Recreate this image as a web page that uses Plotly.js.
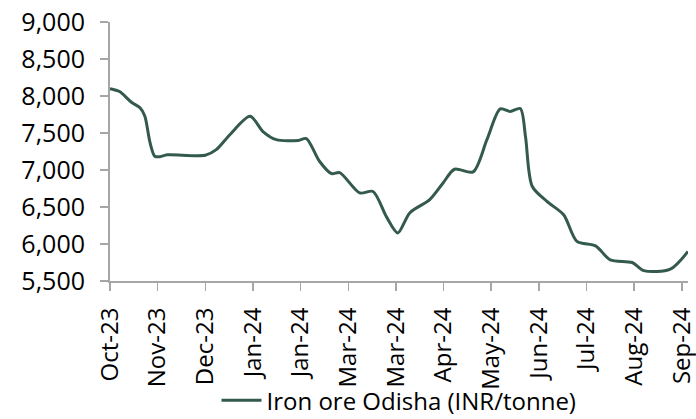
<!DOCTYPE html>
<html>
<head>
<meta charset="utf-8">
<script src="https://cdn.plot.ly/plotly-3.0.1.min.js"></script>
<style>html,body{margin:0;padding:0;background:#fff;}#chart{width:696px;height:419px;}</style>
</head>
<body>
<div id="chart"></div>
<script>
// Tick labels (category periods)
const periodLabels = ["Oct-23","Nov-23","Dec-23","Jan-24","Jan-24","Mar-24","Mar-24","Apr-24","May-24","Jun-24","Jul-24","Aug-24","Sep-24"];
// Position of each observation along the period axis (in label units)
const periodPos = [0, 0.2, 0.45, 0.63, 0.73, 0.84, 0.94, 1.05, 1.2, 2.0, 2.23, 2.52, 2.94, 3.21, 3.49, 3.95, 4.12, 4.40, 4.65, 4.82, 5.24, 5.52, 5.80, 6.04, 6.29, 6.71, 6.99, 7.23, 7.62, 7.91, 8.19, 8.40, 8.61, 8.72, 8.86, 9.17, 9.52, 9.80, 10.19, 10.50, 10.96, 11.20, 11.76, 12.13];
// Iron ore Odisha price (INR/tonne)
const priceOdisha = [8100, 8060, 7915, 7840, 7730, 7370, 7185, 7180, 7205, 7200, 7275, 7480, 7725, 7520, 7410, 7400, 7425, 7115, 6950, 6965, 6690, 6710, 6370, 6150, 6420, 6600, 6825, 7010, 6975, 7410, 7825, 7790, 7830, 7450, 6780, 6575, 6395, 6035, 5975, 5785, 5750, 5640, 5660, 5900];
const seriesName = "Iron ore Odisha (INR/tonne)";

const axisColor = "#a6a6a6";
const fontFam = "'Open Sans', 'Noto Sans', sans-serif";

const trace = {
  x: periodPos,
  y: priceOdisha,
  type: "scatter",
  mode: "lines",
  name: seriesName,
  line: {color: "#335a4a", width: 3, shape: "spline", smoothing: 0.8},
  hoverinfo: "skip"
};

const layout = {
  width: 696,
  height: 419,
  margin: {l: 110, r: 8, t: 22, b: 138, autoexpand: false},
  paper_bgcolor: "#ffffff",
  plot_bgcolor: "#ffffff",
  font: {family: fontFam, size: 25, color: "#000000"},
  showlegend: true,
  legend: {
    orientation: "h",
    x: 0.5, xanchor: "center",
    y: -0.462, yanchor: "middle",
    bgcolor: "rgba(0,0,0,0)",
    font: {family: fontFam, size: 24, color: "#000000"},
    itemwidth: 40,
    tracegroupgap: 0
  },
  xaxis: {
    type: "linear",
    range: [0, 12.13],
    automargin: false,
    tickmode: "array",
    tickvals: periodLabels.map((_, i) => i),
    ticktext: periodLabels,
    tickangle: -90,
    ticklabeloverflow: "allow",
    ticklabelstandoff: 7,
    ticks: "outside",
    ticklen: 8,
    tickwidth: 1.5,
    tickcolor: axisColor,
    showline: true,
    linecolor: axisColor,
    linewidth: 2,
    showgrid: false,
    zeroline: false,
    tickfont: {family: fontFam, size: 24, color: "#000000"}
  },
  yaxis: {
    range: [5500, 9000],
    automargin: false,
    tickmode: "linear",
    tick0: 5500,
    dtick: 500,
    tickformat: ",d",
    ticks: "outside",
    ticklen: 8,
    tickwidth: 1.5,
    tickcolor: axisColor,
    showline: true,
    linecolor: axisColor,
    linewidth: 2,
    showgrid: false,
    zeroline: false,
    ticklabelstandoff: 10,
    tickfont: {family: fontFam, size: 25, color: "#000000"}
  }
};

Plotly.newPlot("chart", [trace], layout, {displayModeBar: false, staticPlot: true});
</script>
</body>
</html>
